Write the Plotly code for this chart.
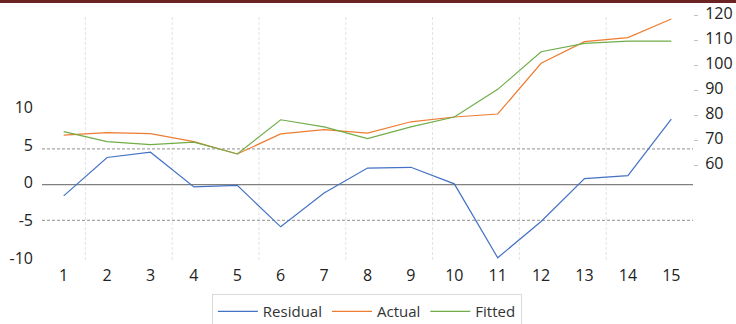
import plotly.graph_objects as go

categories = list(range(1, 15 + 1))
residual = [-1.5, 3.6, 4.3, -0.3, -0.1, -5.6, -1.1, 2.2, 2.3, 0.1, -9.7, -4.9, 0.8, 1.2, 8.7]
actual = [72.2, 73.2, 72.8, 69.6, 64.7, 72.7, 74.4, 73.0, 77.5, 79.4, 80.6, 100.8, 109.4, 111.0, 118.4]
fitted = [73.6, 69.6, 68.4, 69.4, 64.7, 78.3, 75.5, 70.8, 75.5, 79.4, 90.4, 105.4, 108.7, 109.6, 109.6]
std_error = 4.75

left_ticks = [-10, -5, 0, 5, 10]
right_ticks = [60, 70, 80, 90, 100, 110, 120]

FONT = "Open Sans"
fig = go.Figure()
fig.add_trace(go.Scatter(x=categories, y=residual, name="Residual", mode="lines",
                         line=dict(color="#4472C4", width=1.2), yaxis="y"))
fig.add_trace(go.Scatter(x=categories, y=actual, name="Actual", mode="lines",
                         line=dict(color="#ED7D31", width=1.2), yaxis="y2"))
fig.add_trace(go.Scatter(x=categories, y=fitted, name="Fitted", mode="lines",
                         line=dict(color="#70AD47", width=1.2), yaxis="y2"))

shapes = []
for i in range(1, len(categories) - 1, 2):
    shapes.append(dict(type="line", xref="x", yref="paper", x0=categories[i] - 0.5, x1=categories[i] - 0.5,
                       y0=0, y1=1, line=dict(color="#e3e3e3", width=1, dash="3px,2px"), layer="below"))
for v, dash, col in [(std_error, "3px,2px", "#a6a6a6"), (-std_error, "3px,2px", "#a6a6a6"), (0, "solid", "#7f7f7f")]:
    shapes.append(dict(type="line", xref="paper", yref="y", x0=0, x1=1, y0=v, y1=v,
                       line=dict(color=col, width=1.2, dash=dash), layer="below"))
shapes.append(dict(type="rect", xref="paper", yref="paper", x0=-0.1, x1=1.1, y0=1.049, y1=1.1,
                   fillcolor="#6b2222", line=dict(width=0)))

fig.update_layout(
    width=736, height=324,
    margin=dict(l=42, r=43, t=15, b=64, autoexpand=False),
    paper_bgcolor="white", plot_bgcolor="white",
    font=dict(family=FONT, size=16, color="#222222"),
    showlegend=True,
    legend=dict(orientation="h", x=0.499, xanchor="center", y=0.092, yanchor="top", yref="container",
                bordercolor="#d9d9d9", borderwidth=1, font=dict(size=15, color="#333333"),
                itemwidth=40),
    xaxis=dict(range=[0.5, 15.5], tickvals=categories, ticktext=[str(c) for c in categories],
               showgrid=False, zeroline=False, showline=False, ticks="", ticklabelstandoff=4),
    yaxis=dict(range=[-10, 22.5], tickvals=left_ticks, ticktext=[str(t) for t in left_ticks],
               showgrid=False, zeroline=False, showline=False, ticks="", ticklabelstandoff=8,
               ticklabelshift=-2),
    yaxis2=dict(range=[22.5, 120], overlaying="y", side="right", tickvals=right_ticks,
                ticktext=[str(t) for t in right_ticks], showgrid=False, zeroline=False, showline=False,
                ticks="outside", ticklen=4, tickcolor="#bfbfbf", ticklabelstandoff=4, ticklabelshift=-2),
    shapes=shapes,
)
fig.write_html("out.html")
